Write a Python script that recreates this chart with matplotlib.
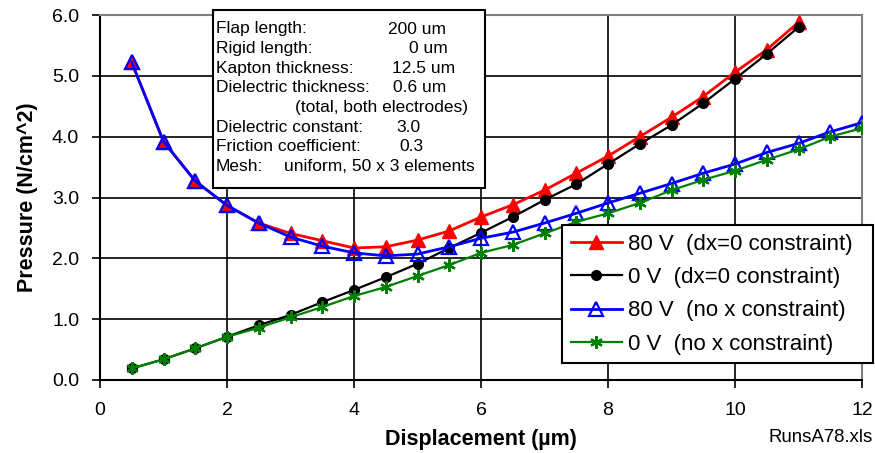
import matplotlib.pyplot as plt
import numpy as np

plt.rcParams["font.family"] = ["Liberation Sans", "DejaVu Sans"]

# Displacement steps (um)
disp_dx0 = np.arange(0.5, 11.01, 0.5)
disp_free = np.arange(0.5, 12.01, 0.5)

# Pressure (N/cm^2)
p_80v_dx0 = [5.22, 3.92, 3.27, 2.87, 2.58, 2.41, 2.29, 2.17, 2.19, 2.30, 2.45,
             2.68, 2.88, 3.12, 3.40, 3.68, 4.00, 4.32, 4.66, 5.06, 5.43, 5.88]
p_0v_dx0 = [0.19, 0.34, 0.52, 0.71, 0.90, 1.07, 1.28, 1.48, 1.69, 1.91, 2.17,
            2.42, 2.68, 2.96, 3.22, 3.55, 3.88, 4.19, 4.55, 4.95, 5.36, 5.80]
p_80v_free = [5.22, 3.92, 3.27, 2.87, 2.58, 2.35, 2.20, 2.09, 2.04, 2.07, 2.19, 2.33,
              2.43, 2.58, 2.74, 2.91, 3.07, 3.23, 3.40, 3.55, 3.74, 3.89, 4.08, 4.23]
p_0v_free = [0.19, 0.34, 0.52, 0.71, 0.86, 1.03, 1.20, 1.38, 1.53, 1.71, 1.89, 2.09,
             2.22, 2.41, 2.60, 2.74, 2.91, 3.12, 3.29, 3.44, 3.62, 3.79, 4.00, 4.14]

series_labels = ["80 V  (dx=0 constraint)", "0 V  (dx=0 constraint)",
                 "80 V  (no x constraint)", "0 V  (no x constraint)"]

params = [("Flap length:", "200 um"), ("Rigid length:", "0 um"),
          ("Kapton thickness:", "12.5 um"), ("Dielectric thickness:", "0.6 um"),
          ("", "(total, both electrodes)"), ("Dielectric constant:", "3.0"),
          ("Friction coefficient:", "0.3"), ("Mesh:", "uniform, 50 x 3 elements")]
value_x = [388, 409, 392, 393, 295, 396, 399, 284]

W, H = 875, 453
fig = plt.figure(figsize=(W / 100, H / 100), dpi=100)
ax = fig.add_axes([100 / W, 1 - 380 / H, 762 / W, 365 / H])

ax.plot(disp_dx0, p_80v_dx0, color="red", lw=2, marker="^", ms=10,
        mfc="red", mec="red", label=series_labels[0], zorder=3)
ax.plot(disp_dx0, p_0v_dx0, color="black", lw=1.6, marker="o", ms=7,
        mfc="black", mec="black", label=series_labels[1], zorder=3)
ax.plot(disp_free, p_80v_free, color="blue", lw=2, marker="^", ms=10,
        mfc="none", mec="blue", mew=1.6, label=series_labels[2], zorder=4)
ax.plot(disp_free, p_0v_free, color="green", lw=1.6, marker=(6, 2, 0), ms=9,
        mec="green", mew=1.6, label=series_labels[3], zorder=4)

ax.set_xlim(0, 12)
ax.set_ylim(0, 6)
ax.set_xticks(range(0, 13, 2))
ax.set_yticks(np.arange(0, 6.01, 1.0))
ax.set_yticklabels([f"{v:.1f}" for v in np.arange(0, 6.01, 1.0)])
ax.grid(True, color="black", lw=1.2)
ax.set_axisbelow(True)
ax.tick_params(direction="out", length=6, width=1.2, labelsize=14)
ax.tick_params(axis="y", pad=9)
ax.tick_params(axis="x", pad=10)
for side in ("left", "bottom"):
    ax.spines[side].set_color("black")
    ax.spines[side].set_linewidth(1.5)
for side in ("top", "right"):
    ax.spines[side].set_color("gray")
    ax.spines[side].set_linewidth(1.5)

ax.set_xlabel("Displacement (µm)", fontsize=15.5, fontweight="bold", labelpad=7)
ax.set_ylabel("Pressure (N/cm^2)", fontsize=15.5, fontweight="bold", labelpad=10)

# parameter box
box = plt.Rectangle((213 / W, 1 - 188 / H), 272 / W, 178 / H, transform=fig.transFigure,
                    facecolor="white", edgecolor="black", lw=1.5, zorder=5)
fig.add_artist(box)
for i, ((name, val), vx) in enumerate(zip(params, value_x)):
    y = 1 - (29 + i * 19.6) / H
    if name:
        fig.text(216 / W, y, name, fontsize=12.5, va="center", ha="left", zorder=6)
    fig.text(vx / W, y, val, fontsize=12.5, va="center", ha="left", zorder=6)

leg = ax.legend(loc="upper left", bbox_to_anchor=(562 / W, 1 - 365 / H, 311 / W, 140 / H),
                bbox_transform=fig.transFigure, mode="expand", fontsize=16,
                frameon=True, fancybox=False, edgecolor="black", framealpha=1,
                handlelength=2.3, handletextpad=0.25, borderpad=0.4,
                labelspacing=0.55, borderaxespad=0)
leg.get_frame().set_linewidth(1.5)
leg.set_zorder(6)

fig.text(821 / W, 1 - 437 / H, "RunsA78.xls", fontsize=13.4, ha="center", va="center")

fig.savefig("out.png", dpi=100)
